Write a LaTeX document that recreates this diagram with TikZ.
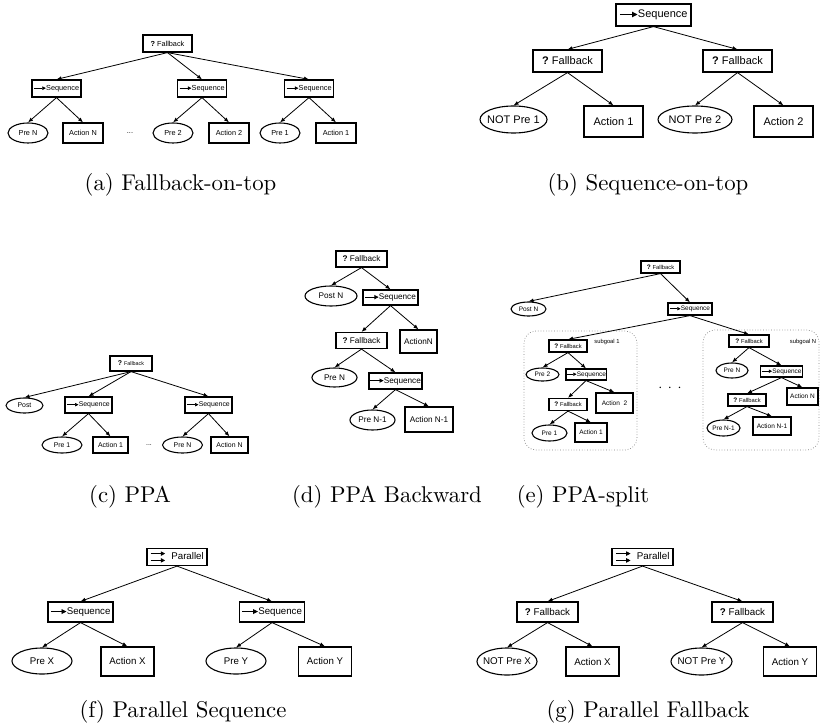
\documentclass[tikz,border=0pt]{standalone}
\usepackage{fontspec}
\newfontfamily\arial{Liberation Sans}
\usetikzlibrary{arrows.meta,shapes.geometric}

\newcommand{\fs}[1]{\arial\fontsize{#1}{#1}\selectfont}
\newcommand{\seqic}{\tikz[baseline=-0.55ex]\draw[line width=0.08em,-{Triangle[length=0.5em,width=0.5em]}] (0pt,0pt) -- (1.6em,0pt);}
\newcommand{\fbic}{{\bfseries ?}\ }
\newcommand{\paric}{\tikz[baseline=-0.55ex]{%
  \draw[line width=0.08em,-{Triangle[length=0.45em,width=0.45em]}] (0pt,0.35em) -- (1.5em,0.35em);
  \draw[line width=0.08em,-{Triangle[length=0.45em,width=0.45em]}] (0pt,-0.35em) -- (1.5em,-0.35em);}\hspace{0.6em}}

\tikzset{
  ctl/.style={draw, line width=1.2pt, inner sep=0pt},
  act/.style={draw, line width=1.2pt, inner sep=0pt},
  cnd/.style={draw, ellipse, line width=1.1pt, inner sep=0pt,
    execute at begin node=\hbox to 0pt\bgroup\hss,
    execute at end node=\hss\egroup},
  wh/.style 2 args={minimum width=#1pt, minimum height=#2pt},
  link/.style={-{Latex[length=5pt,width=4pt]}, line width=0.8pt},
  subg/.style={draw=gray, dotted, line width=0.7pt, rounded corners=12pt, inner sep=0pt},
  capt/.style={font=\normalsize}
}

\begin{document}
\begin{tikzpicture}[x=1pt, y=-1pt]
  \useasboundingbox (0,0) rectangle (821,727);

  % (a) fallback on top
  \begin{scope}[font=\fs{7.3}]
    \node[ctl, wh={49}{17}] (aF) at (167.5,43.5) {\fbic Fallback};
    \node[ctl, wh={49}{17}] (aS1) at (56.5,88.5) {\seqic Sequence};
    \node[ctl, wh={49}{17}] (aS2) at (202,88.5) {\seqic Sequence};
    \node[ctl, wh={49}{17}] (aS3) at (309,88.5) {\seqic Sequence};
    \node[cnd, wh={40}{20}] (aP1) at (28,133) {Pre N};
    \node[act, wh={40}{20}] (aA1) at (83,133) {Action N};
    \node (aDots) at (130,133) {...};
    \node[cnd, wh={40}{20}] (aP2) at (173,133) {Pre 2};
    \node[act, wh={40}{20}] (aA2) at (229,133) {Action 2};
    \node[cnd, wh={40}{20}] (aP3) at (280,133) {Pre 1};
    \node[act, wh={40}{20}] (aA3) at (336,133) {Action 1};
  \end{scope}
  \foreach \u/\v in {aF/aS1, aF/aS2, aF/aS3, aS1/aP1, aS1/aA1,
                     aS2/aP2, aS2/aA2, aS3/aP3, aS3/aA3}
    \draw[link] (\u.south) -- (\v.north);
  \node[capt] (aCap) at (180.5,185) {\scalebox{2.28}{(a) Fallback-on-top}};

  % (b) sequence on top
  \begin{scope}[font=\fs{11}]
    \node[ctl, wh={75}{22}] (bS) at (653.5,15) {\seqic Sequence};
    \node[ctl, wh={69}{22}] (bF1) at (567.5,61) {\fbic Fallback};
    \node[ctl, wh={69}{22}] (bF2) at (737.5,61) {\fbic Fallback};
    \node[cnd, wh={67}{27}] (bP1) at (513.5,119.5) {NOT Pre 1};
    \node[act, wh={59}{31}] (bA1) at (613.5,121.5) {Action 1};
    \node[cnd, wh={74}{27}] (bP2) at (695,119.5) {NOT Pre 2};
    \node[act, wh={59}{31}] (bA2) at (783.5,121.5) {Action 2};
  \end{scope}
  \foreach \u/\v in {bS/bF1, bS/bF2, bF1/bP1, bF1/bA1, bF2/bP2, bF2/bA2}
    \draw[link] (\u.south) -- (\v.north);
  \node[capt] (bCap) at (648,185) {\scalebox{2.28}{(b) Sequence-on-top}};

  % (c) PPA
  \begin{scope}[font=\fs{6.9}]
    \node[ctl, wh={42}{15}] (cF) at (131,363.5) {\fbic{\fs{5.4}Fallback}};
    \node[cnd, wh={37}{15}] (cPost) at (24.5,405.5) {Post};
    \node[ctl, wh={47}{16}] (cS1) at (88.5,405) {\seqic Sequence};
    \node[ctl, wh={47}{16}] (cS2) at (208.5,405) {\seqic Sequence};
    \node[cnd, wh={40}{16}] (cP1) at (62,445) {Pre 1};
    \node[act, wh={35}{16}] (cA1) at (110.5,445) {Action 1};
    \node (cDots) at (149,445) {...};
    \node[cnd, wh={40}{16}] (cP2) at (182.5,445) {Pre N};
    \node[act, wh={37}{16}] (cA2) at (229.5,445) {Action N};
  \end{scope}
  \foreach \u/\v in {cF/cPost, cF/cS1, cF/cS2, cS1/cP1, cS1/cA1, cS2/cP2, cS2/cA2}
    \draw[link] (\u.south) -- (\v.north);
  \node[capt] (cCap) at (130,497) {\scalebox{2.28}{(c) PPA}};

  % (d) PPA backward
  \begin{scope}[font=\fs{8.2}]
    \node[ctl, wh={51}{16}] (dF1) at (361.5,259) {\fbic Fallback};
    \node[cnd, wh={52}{20}] (dPost) at (331,296) {Post N};
    \node[ctl, wh={55}{15}] (dS1) at (390.5,297.5) {\seqic Sequence};
    \node[ctl, wh={51}{16}] (dF2) at (361.5,340.5) {\fbic Fallback};
    \node[act, wh={37}{23}] (dA1) at (418.5,341.5) {ActionN};
    \node[cnd, wh={45}{19}] (dP1) at (334.5,377.5) {Pre N};
    \node[ctl, wh={53}{16}] (dS2) at (395.5,381) {\seqic Sequence};
    \node[cnd, wh={45}{20}] (dP2) at (372.5,420) {Pre N-1};
    \node[act, wh={48}{25}] (dA2) at (429,419.5) {Action N-1};
  \end{scope}
  \foreach \u/\v in {dF1/dPost, dF1/dS1, dS1/dF2, dS1/dA1,
                     dF2/dP1, dF2/dS2, dS2/dP2, dS2/dA2}
    \draw[link] (\u.south) -- (\v.north);
  \node[capt] (dCap) at (387,497) {\scalebox{2.28}{(d) PPA Backward}};

  % (e) PPA split
  \node[subg, wh={113}{119}] (eBox1) at (580.5,390.5) {};
  \node[subg, wh={116}{120}] (eBoxN) at (761,390) {};
  \begin{scope}[font=\fs{6.5}]
    \node[ctl, wh={39}{12}] (eF) at (660.5,267) {\fbic{\fs{5.8}Fallback}};
    \node[cnd, wh={35}{14}] (ePost) at (528.5,309) {Post N};
    \node[ctl, wh={44}{12}] (eS) at (690,309) {\seqic Sequence};
    \node[font=\fs{5.8}] (eLab1) at (607,342) {subgoal 1};
    \node[font=\fs{5.8}] (eLabN) at (803,342) {subgoal N};
    \node[font=\Large] (eDots) at (670,388) {$\cdot\,\cdot\,\cdot$};
    % subgoal 1
    \node[ctl, wh={38}{12}] (e1F1) at (568,346) {\fbic{\fs{5.8}Fallback}};
    \node[cnd, wh={33}{13}] (e1P2) at (542.5,374.5) {Pre 2};
    \node[ctl, wh={40}{11}] (e1S) at (586,374.5) {\seqic Sequence};
    \node[ctl, wh={38}{12}] (e1F2) at (568,404.5) {\fbic{\fs{5.8}Fallback}};
    \node[act, wh={37}{20}] (e1A2) at (614.5,403) {Action\ \ 2};
    \node[cnd, wh={35}{16}] (e1P1) at (549.5,433) {Pre 1};
    \node[act, wh={32}{19}] (e1A1) at (591,432.5) {Action 1};
    % subgoal N
    \node[ctl, wh={40}{12}] (eNF1) at (749,341) {\fbic{\fs{5.8}Fallback}};
    \node[cnd, wh={32}{15}] (eNP2) at (732,370.5) {Pre N};
    \node[ctl, wh={42}{11}] (eNS) at (781.5,371.5) {\seqic Sequence};
    \node[ctl, wh={38}{12}] (eNF2) at (747,400) {\fbic{\fs{5.8}Fallback}};
    \node[act, wh={31}{17}] (eNA2) at (802.5,396.5) {Action N};
    \node[cnd, wh={33}{16}] (eNP1) at (723.5,428) {Pre N-1};
    \node[act, wh={38}{18}] (eNA1) at (772,426) {Action N-1};
  \end{scope}
  \foreach \u/\v in {eF/ePost, eF/eS, eS/e1F1, eS/eNF1,
                     e1F1/e1P2, e1F1/e1S, e1S/e1F2, e1S/e1A2, e1F2/e1P1, e1F2/e1A1,
                     eNF1/eNP2, eNF1/eNS, eNS/eNF2, eNS/eNA2, eNF2/eNP1, eNF2/eNA1}
    \draw[link] (\u.south) -- (\v.north);
  \node[capt] (eCap) at (583,497) {\scalebox{2.28}{(e) PPA-split}};

  % (f) parallel sequence
  \begin{scope}[font=\fs{9.7}]
    \node[ctl, wh={60}{17}] (fP) at (177,557) {\paric Parallel};
    \node[ctl, wh={65}{20}] (fS1) at (80.5,612) {\seqic Sequence};
    \node[ctl, wh={65}{20}] (fS2) at (272,612) {\seqic Sequence};
    \node[cnd, wh={60}{26}] (fC1) at (42,661) {Pre X};
    \node[act, wh={53}{29}] (fA1) at (127.5,661.5) {Action X};
    \node[cnd, wh={60}{26}] (fC2) at (236,661) {Pre Y};
    \node[act, wh={53}{29}] (fA2) at (325,661.5) {Action Y};
  \end{scope}
  \foreach \u/\v in {fP/fS1, fP/fS2, fS1/fC1, fS1/fA1, fS2/fC2, fS2/fA2}
    \draw[link] (\u.south) -- (\v.north);
  \node[capt] (fCap) at (183,712) {\scalebox{2.28}{(f) Parallel Sequence}};

  % (g) parallel fallback
  \begin{scope}[font=\fs{9.8}]
    \node[ctl, wh={61}{17}] (gP) at (642.5,557) {\paric Parallel};
    \node[ctl, wh={61}{20}] (gF1) at (547.5,612) {\fbic Fallback};
    \node[ctl, wh={61}{20}] (gF2) at (742.5,612) {\fbic Fallback};
    \node[cnd, wh={60}{27}] (gC1) at (507,661.5) {NOT Pre X};
    \node[act, wh={53}{29}] (gA1) at (592.5,661.5) {Action X};
    \node[cnd, wh={61}{27}] (gC2) at (701.5,661.5) {NOT Pre Y};
    \node[act, wh={53}{29}] (gA2) at (790,661.5) {Action Y};
  \end{scope}
  \foreach \u/\v in {gP/gF1, gP/gF2, gF1/gC1, gF1/gA1, gF2/gC2, gF2/gA2}
    \draw[link] (\u.south) -- (\v.north);
  \node[capt] (gCap) at (648,712) {\scalebox{2.28}{(g) Parallel Fallback}};
\end{tikzpicture}
\end{document}
